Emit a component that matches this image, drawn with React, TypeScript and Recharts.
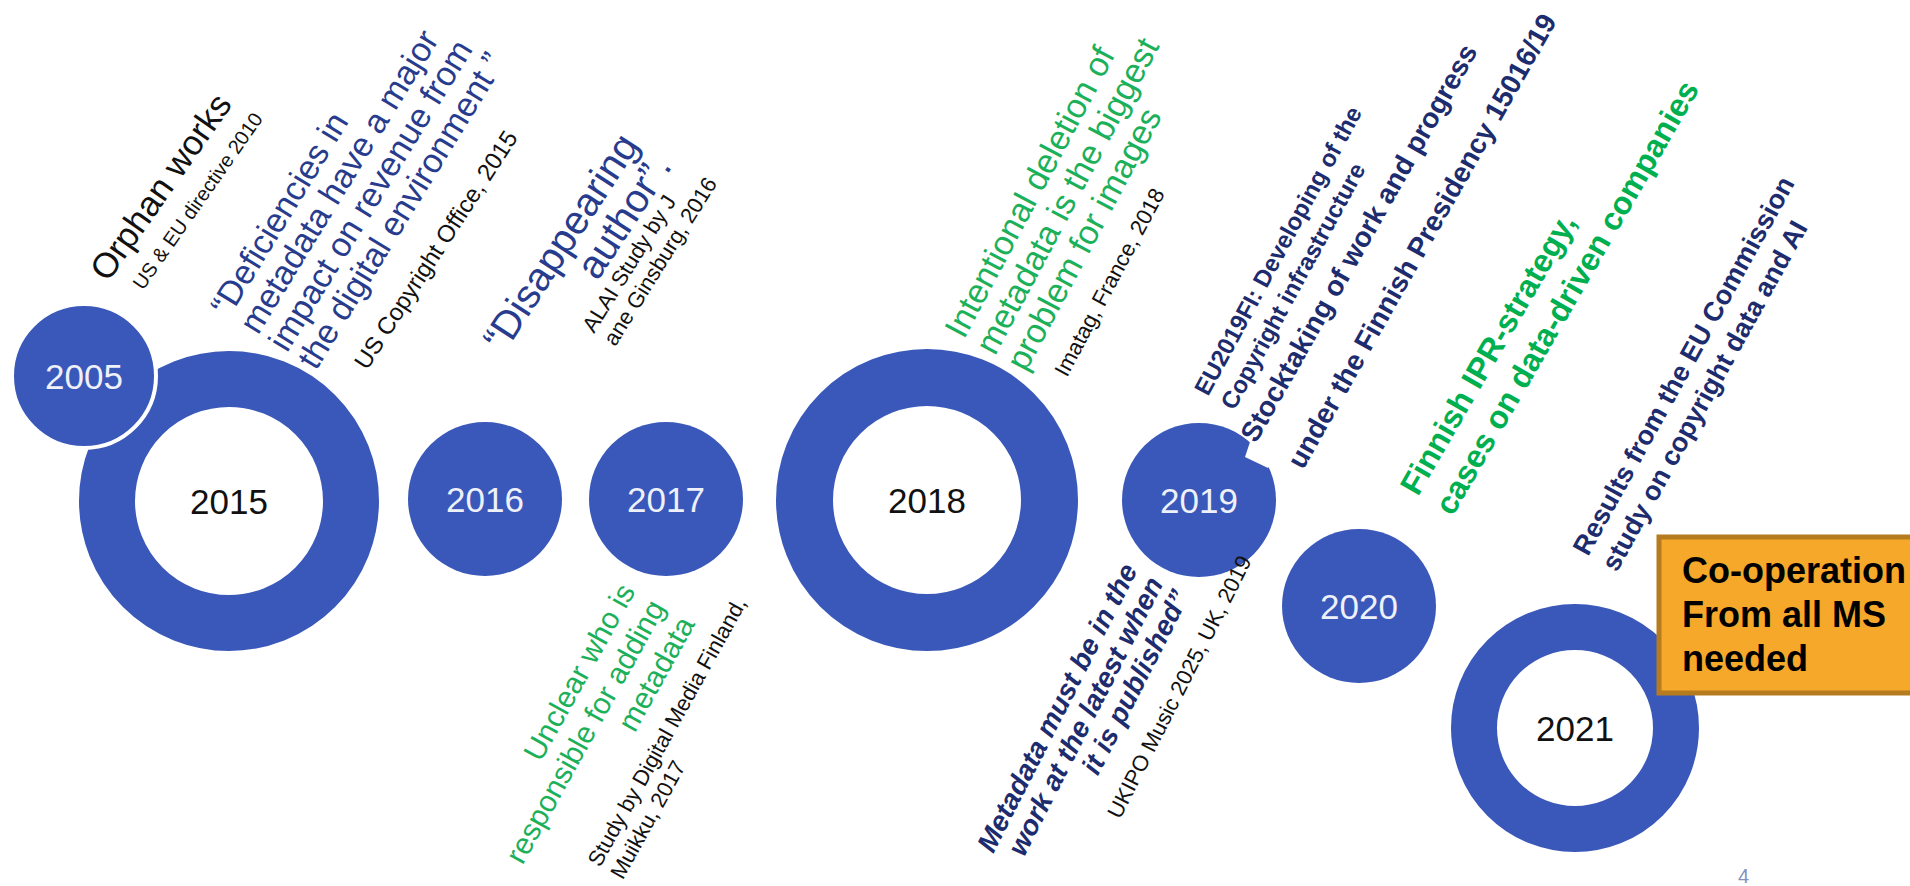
import { ScatterChart, Scatter, XAxis, YAxis } from 'recharts';

const W = 1910;
const H = 886;

const BLUE = '#3a58b9';
const NAVY = '#1d2c6e';
const INK = '#283c8e';
const GREEN = '#1bb05a';
const FONT = '"Liberation Sans", Arial, sans-serif';

// timeline circles (drawing order: 2015 ring sits under the 2005 disc)
const years = ['2015', '2005', '2016', '2017', '2018', '2019', '2020', '2021'];
const yearX = [229, 84, 485, 666, 927, 1199, 1359, 1575];
const yearY = [501, 376, 499, 499, 500, 500, 606, 728];
const outerR = [150, 72, 77, 77, 151, 77, 77, 124];
const innerR = [94, 0, 0, 0, 94, 0, 0, 78];

// rotated annotations
const noteLines: string[][] = [
  ['Orphan works'],
  ['US & EU directive 2010'],
  ['“Deficiencies in', 'metadata have a major', 'impact on revenue from', 'the digital environment ”'],
  ['US Copyright Office, 2015'],
  ['“Disappearing', 'author”.'],
  ['ALAI Study by J', 'ane Ginsburg, 2016'],
  ['Unclear who is', 'responsible for adding', 'metadata'],
  ['Study by Digital Media Finland,', 'Muikku, 2017'],
  ['Intentional deletion of', 'metadata is the biggest', 'problem for images'],
  ['Imatag, France, 2018'],
  ['Metadata must be in the', 'work at the latest when', 'it is published”'],
  ['UKIPO Music 2025, UK, 2019'],
  ['EU2019FI: Developing of the', 'Copyright infrastructure'],
  ['Stocktaking of work and progress', 'under the Finnish Presidency 15016/19'],
  ['Finnish IPR-strategy,', 'cases on data-driven companies'],
  ['Results from the EU Commission', 'study on copyright data and AI'],
  ['4'],
];
const noteX = [108, 143, 229, 367, 640, 594, 636, 600, 964, 1067, 1138, 1120, 1208, 1256, 1418, 1588, 1738];
const noteY = [283, 291, 318, 371, 145, 334, 591, 868, 340, 378, 570, 820, 397, 444, 497, 557, 883];

type NoteStyle = { angle: number; anchor: 'start' | 'end'; size: number; color: string; bold?: boolean; italic?: boolean; lead: number };
const noteStyles: NoteStyle[] = [
  { angle: 55, anchor: 'start', size: 35, color: '#111', lead: 0 },
  { angle: 55, anchor: 'start', size: 20, color: '#111', lead: 0 },
  { angle: 58.5, anchor: 'start', size: 34, color: INK, lead: 34 },
  { angle: 57, anchor: 'start', size: 24, color: '#111', lead: 0 },
  { angle: 57, anchor: 'end', size: 40, color: INK, lead: 39 },
  { angle: 58, anchor: 'start', size: 22, color: '#111', lead: 25 },
  { angle: 61, anchor: 'end', size: 30, color: GREEN, lead: 34 },
  { angle: 61, anchor: 'start', size: 22, color: '#111', lead: 26 },
  { angle: 62, anchor: 'start', size: 34, color: GREEN, lead: 35 },
  { angle: 62, anchor: 'start', size: 22, color: '#111', lead: 0 },
  { angle: 63, anchor: 'end', size: 28, color: NAVY, bold: true, italic: true, lead: 29 },
  { angle: 63, anchor: 'start', size: 22, color: '#111', lead: 0 },
  { angle: 61.5, anchor: 'start', size: 24, color: NAVY, bold: true, lead: 30 },
  { angle: 60.5, anchor: 'start', size: 28, color: NAVY, bold: true, lead: 54 },
  { angle: 60, anchor: 'start', size: 32, color: '#00b050', bold: true, lead: 40 },
  { angle: 61, anchor: 'start', size: 27, color: NAVY, bold: true, lead: 33 },
  { angle: 0, anchor: 'start', size: 20, color: '#8393bd', lead: 0 },
];

// call-out box
const boxLines = ['Co-operation', 'From all MS', 'needed'];
const boxX = [1659];
const boxY = [537];

const circleData = years.map((year, i) => ({ year, x: yearX[i], y: yearY[i], r: outerR[i], inner: innerR[i] }));
const noteData = noteLines.map((lines, i) => ({ lines, x: noteX[i], y: noteY[i], style: noteStyles[i] }));
const boxData = boxX.map((x, i) => ({ x, y: boxY[i], lines: boxLines }));

function CircleShape(props: any) {
  const { cx, cy, payload } = props;
  const { r, inner, year } = payload;
  if (inner > 0) {
    return (
      <g>
        <circle cx={cx} cy={cy} r={(r + inner) / 2} fill="#fff" stroke={BLUE} strokeWidth={r - inner} />
        <text x={cx} y={cy} dy="0.36em" textAnchor="middle" fontFamily={FONT} fontSize={35} fill="#111">
          {year}
        </text>
      </g>
    );
  }
  // 2019 disc carries the little notch left by the call-out pointer
  const notch =
    year === '2019'
      ? `M${cx + 51},${cy - 58} L${cx + 46},${cy - 43} L${cx + 69},${cy - 32} L${cx + 80},${cy - 50} Z`
      : null;
  return (
    <g>
      <circle cx={cx} cy={cy} r={r} fill={BLUE} stroke={year === '2005' ? '#fff' : 'none'} strokeWidth={4} />
      {notch && <path d={notch} fill="#fff" />}
      <text x={cx} y={cy} dy="0.36em" textAnchor="middle" fontFamily={FONT} fontSize={35} fill="#eef1fa">
        {year}
      </text>
    </g>
  );
}

function NoteShape(props: any) {
  const { cx, cy, payload } = props;
  const s: NoteStyle = payload.style;
  return (
    <text
      transform={`rotate(${-s.angle} ${cx} ${cy})`}
      fontFamily={FONT}
      fontSize={s.size}
      fill={s.color}
      fontWeight={s.bold ? 700 : 400}
      fontStyle={s.italic ? 'italic' : 'normal'}
      textAnchor={s.anchor}
    >
      {payload.lines.map((line: string, i: number) => (
        <tspan key={i} x={cx} y={cy + i * s.lead}>
          {line}
        </tspan>
      ))}
    </text>
  );
}

function BoxShape(props: any) {
  const { cx, cy, payload } = props;
  return (
    <g>
      <rect x={cx} y={cy} width={270} height={156} fill="#f5a82a" stroke="#b67a1f" strokeWidth={5} />
      {payload.lines.map((line: string, i: number) => (
        <text key={i} x={cx + 23} y={cy + 46 + i * 44} fontFamily={FONT} fontSize={36} fontWeight={700} fill="#000">
          {line}
        </text>
      ))}
    </g>
  );
}

export default function App() {
  return (
    <div style={{ position: 'absolute', left: 0, top: 0, width: W, height: H, overflow: 'hidden', background: '#fff' }}>
      <ScatterChart width={W} height={H} margin={{ top: 0, right: 0, bottom: 0, left: 0 }}>
        <XAxis type="number" dataKey="x" domain={[0, W]} hide allowDataOverflow />
        <YAxis type="number" dataKey="y" domain={[0, H]} reversed hide allowDataOverflow />
        <Scatter data={circleData} shape={CircleShape} isAnimationActive={false} />
        <Scatter data={boxData} shape={BoxShape} isAnimationActive={false} />
        <Scatter data={noteData} shape={NoteShape} isAnimationActive={false} />
      </ScatterChart>
    </div>
  );
}
